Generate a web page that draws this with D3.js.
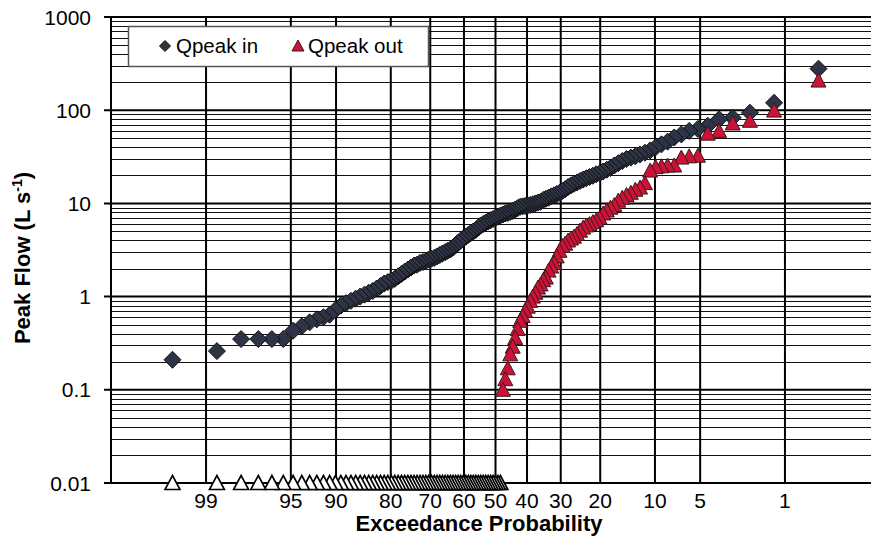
<!DOCTYPE html>
<html>
<head>
<meta charset="utf-8">
<script src="https://cdn.jsdelivr.net/npm/d3@7"></script>
<style>
    body { margin: 0; background: #fff; }
    svg { display: block; font-family: Arial, "Liberation Sans", sans-serif; }
</style>
</head>
<body>
<div id="chart"></div>
<script>

// Peak flows (L/s) ranked from largest to smallest, one value per event
let qpeakIn = [
    279, 120, 94, 83, 80, 68, 63, 60, 55, 51,
    46, 43, 40, 37, 35, 33.5, 32, 31, 30, 28.5,
    27, 25.5, 24, 23, 22, 21, 20.5, 19.8, 19.2, 18.6,
    18, 17.4, 16.8, 16.2, 15.6, 15, 14.2, 13.6, 13, 12.6,
    12.2, 11.9, 11.5, 11.2, 10.9, 10.4, 10.2, 10.0, 9.8, 9.6,
    9.5, 9.4, 9.3, 9.2, 8.9, 8.6, 8.3, 8.1, 7.9, 7.8,
    7.6, 7.4, 7.2, 7.0, 6.8, 6.6, 6.4, 6.2, 6.0, 5.8,
    5.5, 5.2, 5.0, 4.8, 4.6, 4.4, 4.2, 4.0, 3.8, 3.55,
    3.35, 3.2, 3.1, 3.0, 2.9, 2.8, 2.7, 2.6, 2.55, 2.5,
    2.4, 2.35, 2.3, 2.2, 2.15, 2.05, 1.95, 1.85, 1.75, 1.65,
    1.55, 1.48, 1.43, 1.38, 1.3, 1.22, 1.15, 1.1, 1.05, 1.0,
    0.95, 0.9, 0.85, 0.8, 0.72, 0.64, 0.6, 0.57, 0.53, 0.48,
    0.43, 0.35, 0.35, 0.35, 0.35, 0.26, 0.21
];

// outflow peaks, same ranking; 0 = no outflow (drawn on the 0.01 floor)
let qpeakOut = [
    208, 99, 77, 72, 60, 56, 32.5, 32, 31, 25.5,
    25.5, 25, 24.5, 22.5, 16.5, 14.8, 14, 13, 12.3, 11.5,
    10.7, 9.6, 9.0, 8.4, 7.8, 7.0, 6.6, 6.3, 6.0, 5.8,
    5.5, 5.1, 4.7, 4.4, 4.2, 4.0, 3.7, 3.5, 3.1, 2.7,
    2.3, 2.1, 1.9, 1.6, 1.5, 1.35, 1.25, 1.1, 1.0, 0.9,
    0.78, 0.7, 0.62, 0.55, 0.45, 0.36, 0.29, 0.24, 0.17, 0.13,
    0.1, 0, 0, 0, 0, 0, 0, 0, 0, 0,
    0, 0, 0, 0, 0, 0, 0, 0, 0, 0,
    0, 0, 0, 0, 0, 0, 0, 0, 0, 0,
    0, 0, 0, 0, 0, 0, 0, 0, 0, 0,
    0, 0, 0, 0, 0, 0, 0, 0, 0, 0,
    0, 0, 0, 0, 0, 0, 0, 0, 0, 0,
    0, 0, 0, 0, 0, 0, 0
];

let probTicks = [99, 95, 90, 80, 70, 60, 50, 40, 30, 20, 10, 5, 1];
let flowTicks = [0.01, 0.1, 1, 10, 100, 1000];
let seriesNames = ["Qpeak in", "Qpeak out"];


// inverse of the standard normal CDF (Acklam)
function normInv(p) {
    let a = [-3.969683028665376e+01, 2.209460984245205e+02, -2.759285104469687e+02, 1.383577518672690e+02, -3.066479806614716e+01, 2.506628277459239e+00];
    let b = [-5.447609879822406e+01, 1.615858368580409e+02, -1.556989798598866e+02, 6.680131188771972e+01, -1.328068155288572e+01];
    let c = [-7.784894002430293e-03, -3.223964580411365e-01, -2.400758277161838e+00, -2.549732539343734e+00, 4.374664141464968e+00, 2.938163982698783e+00];
    let d = [7.784695709041462e-03, 3.224671290700398e-01, 2.445134137142996e+00, 3.754408661907416e+00];
    let plow = 0.02425, q, r;
    if (p < plow) {
        q = Math.sqrt(-2 * Math.log(p));
        return (((((c[0]*q+c[1])*q+c[2])*q+c[3])*q+c[4])*q+c[5]) / ((((d[0]*q+d[1])*q+d[2])*q+d[3])*q+1);
    }
    if (p > 1 - plow) {
        q = Math.sqrt(-2 * Math.log(1 - p));
        return -(((((c[0]*q+c[1])*q+c[2])*q+c[3])*q+c[4])*q+c[5]) / ((((d[0]*q+d[1])*q+d[2])*q+d[3])*q+1);
    }
    q = p - 0.5; r = q * q;
    return (((((a[0]*r+a[1])*r+a[2])*r+a[3])*r+a[4])*r+a[5])*q / (((((b[0]*r+b[1])*r+b[2])*r+b[3])*r+b[4])*r+1);
}

// exceedance probability (%) -> normal score
let zOf = p => normInv(1 - p / 100);

// Cunnane plotting position for rank i (0 = largest) out of n events
let plotPos = (i, n) => (i + 1 - 0.4) / (n + 0.2) * 100;


let margin = { top: 17, left: 111 };
let width = 769, height = 466;

let svg = d3.select("#chart").append("svg")
    .attr("width", 871)
    .attr("height", 538);

let g = svg.append("g")
    .attr("transform", "translate(" + margin.left + "," + margin.top + ")");

let x = d3.scaleLinear()
    .domain([zOf(99.9), zOf(0.1)])
    .range([0, width]);

let y = d3.scaleLog()
    .domain([0.01, 1000])
    .range([height, 0]);

// minor horizontal grid (2..9 in every decade)
let minor = [];
flowTicks.slice(0, -1).forEach(function(d) {
    for (let k = 2; k <= 9; k++) minor.push(d * k);
});

g.selectAll(".minor")
    .data(minor)
    .enter().append("line")
    .attr("class", "minor")
    .attr("x1", 0).attr("x2", width)
    .attr("y1", d => Math.round(y(d)) + 0.5)
    .attr("y2", d => Math.round(y(d)) + 0.5)
    .attr("stroke", "#111")
    .attr("stroke-width", 1.2);

g.selectAll(".major")
    .data(flowTicks)
    .enter().append("line")
    .attr("class", "major")
    .attr("x1", -7).attr("x2", width)
    .attr("y1", d => y(d))
    .attr("y2", d => y(d))
    .attr("stroke", "#000")
    .attr("stroke-width", 2);

g.selectAll(".vgrid")
    .data(probTicks)
    .enter().append("line")
    .attr("class", "vgrid")
    .attr("x1", d => x(zOf(d)))
    .attr("x2", d => x(zOf(d)))
    .attr("y1", 0).attr("y2", height)
    .attr("stroke", "#000")
    .attr("stroke-width", 2);

// left border
g.append("line")
    .attr("x1", 0).attr("x2", 0)
    .attr("y1", 0).attr("y2", height)
    .attr("stroke", "#000")
    .attr("stroke-width", 2);

// tick labels
g.selectAll(".ylab")
    .data(flowTicks)
    .enter().append("text")
    .attr("class", "ylab")
    .attr("x", -20)
    .attr("y", d => y(d) + 7.5)
    .attr("text-anchor", "end")
    .style("font-size", "21px")
    .text(d => d3.format("~g")(d));

g.selectAll(".xlab")
    .data(probTicks)
    .enter().append("text")
    .attr("class", "xlab")
    .attr("x", d => x(zOf(d)))
    .attr("y", height + 25)
    .attr("text-anchor", "middle")
    .style("font-size", "21px")
    .text(d => d);

// axis titles
svg.append("text")
    .attr("x", 479)
    .attr("y", 531)
    .attr("text-anchor", "middle")
    .style("font-size", "22px")
    .style("font-weight", "bold")
    .text("Exceedance Probability");

let yTitle = svg.append("text")
    .attr("transform", "translate(30,258) rotate(-90)")
    .attr("text-anchor", "middle")
    .style("font-size", "22px")
    .style("font-weight", "bold");
yTitle.append("tspan").text("Peak Flow (L s");
yTitle.append("tspan").attr("dy", -8).style("font-size", "14px").text("-1");
yTitle.append("tspan").attr("dy", 8).text(")");

// markers
let diamond = "M0,-8.5L8.5,0L0,8.5L-8.5,0Z";
let triangle = "M0,-7.5L7.5,6.5L-7.5,6.5Z";

let inData = qpeakIn.map((v, i) => ({ p: plotPos(i, qpeakIn.length), q: v }));
let outData = qpeakOut.map((v, i) => ({ p: plotPos(i, qpeakOut.length), q: v }));

g.selectAll(".qin")
    .data(inData)
    .enter().append("path")
    .attr("class", "qin")
    .attr("d", diamond)
    .attr("transform", d => "translate(" + x(zOf(d.p)) + "," + y(d.q) + ")")
    .attr("fill", "#2e3445")
    .attr("stroke", "#111")
    .attr("stroke-width", 1);

// zero outflows first, so the filled ones sit on top
outData.sort((a, b) => (a.q > 0) - (b.q > 0));

g.selectAll(".qout")
    .data(outData)
    .enter().append("path")
    .attr("class", "qout")
    .attr("d", triangle)
    .attr("transform", d => "translate(" + x(zOf(d.p)) + "," + y(Math.max(d.q, 0.01)) + ")")
    .attr("fill", d => d.q > 0 ? "#cc1236" : "#fff")
    .attr("stroke", d => d.q > 0 ? "#3a1a1a" : "#000")
    .attr("stroke-width", d => d.q > 0 ? 1 : 1.6);

// legend
let legend = svg.append("g");

legend.append("rect")
    .attr("x", 128.5).attr("y", 26.5)
    .attr("width", 300).attr("height", 40)
    .attr("fill", "#fff")
    .attr("stroke", "#555")
    .attr("stroke-width", 1.5);

legend.append("path")
    .attr("d", "M0,-5.5L5.5,0L0,5.5L-5.5,0Z")
    .attr("transform", "translate(165,46)")
    .attr("fill", "#333")
    .attr("stroke", "#111");

legend.append("path")
    .attr("d", "M0,-6L6,5L-6,5Z")
    .attr("transform", "translate(298,46)")
    .attr("fill", "#cc1236")
    .attr("stroke", "#3a1a1a");

legend.selectAll(".ltext")
    .data(seriesNames)
    .enter().append("text")
    .attr("class", "ltext")
    .attr("x", (d, i) => i === 0 ? 176 : 308)
    .attr("y", 53)
    .style("font-size", "20.5px")
    .text(d => d);

</script>
</body>
</html>
